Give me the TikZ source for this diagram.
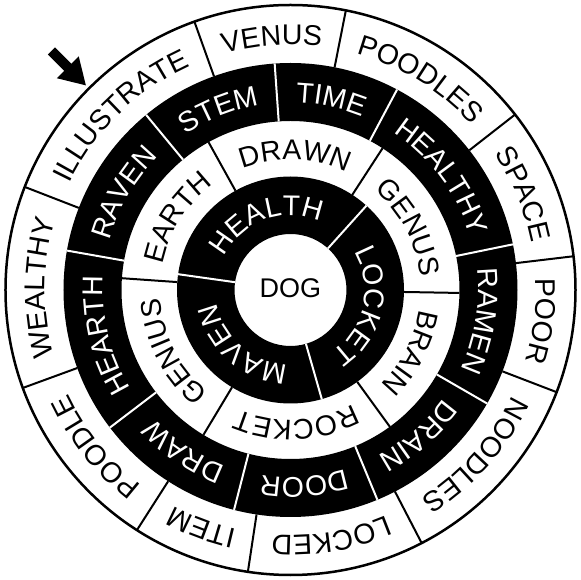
\documentclass[tikz,border=0pt]{standalone}
\usepackage{fontspec}
\setmainfont{Liberation Sans}
\usetikzlibrary{decorations.text, arrows.meta}
\newcommand\ringfnt{\fontsize{28.5}{28.5}\selectfont}
\newcommand\ringlabel[5]{%
  \path[decorate, decoration={text along path, text={|\ringfnt|#5}, text align=center, text color=#1}]
    (#3:#2) arc[start angle=#3, end angle=#4, radius=#2];}
\begin{document}
\begin{tikzpicture}[x=1pt,y=1pt,
  divB/.style={draw=black, line width=2pt},
  divW/.style={draw=white, line width=2pt},
  rim/.style={draw=black, line width=2.5pt},
  pointer/.style={draw=black, line width=10pt, -{Triangle[length=26pt,width=29pt]}}]
\useasboundingbox (-290.5,-290) rectangle (290.5,290);
\fill[white] (-290.5,-290) rectangle (290.5,290);
% black rings
\fill[black, even odd rule] (0,0) circle[radius=113.5] (0,0) circle[radius=56];
\fill[black, even odd rule] (0,0) circle[radius=227] (0,0) circle[radius=169];
% dividers
\foreach \a in {48,172,286} \draw[divW] (\a:56) -- (\a:113.5);
\foreach \a in {57,119,176,239,306,359} \draw[divB] (\a:113.5) -- (\a:169);
\foreach \a in {11.6,62,94,129.5,170,217.3,255.6,292.5,330} \draw[divW] (\a:169) -- (\a:227);
\foreach \a in {6.8,38,78.8,109.7,158.8,200.1,237.4,261.4,297.4,339} \draw[divB] (\a:227) -- (\a:285);
\draw[rim] (0,0) circle[radius=285];
% centre
\node[font=\fontsize{27}{27}\selectfont, inner sep=0pt] (dog) at (0,2) {DOG};
% ring 1
\ringlabel{white}{74.5}{172}{48}{HEALTH}
\ringlabel{white}{74.5}{286}{172}{MAVEN}
\ringlabel{white}{74.5}{408}{286}{LOCKET}
% ring 2
\ringlabel{black}{130.5}{119}{57}{DRAWN}
\ringlabel{black}{130.5}{176}{119}{EARTH}
\ringlabel{black}{130.5}{239}{176}{GENIUS}
\ringlabel{black}{130.5}{306}{239}{ROCKET}
\ringlabel{black}{130.5}{359}{306}{BRAIN}
\ringlabel{black}{130.5}{417}{359}{GENUS}
% ring 3
\ringlabel{white}{187.5}{62}{11.6}{HEALTHY}
\ringlabel{white}{187.5}{94}{62}{TIME}
\ringlabel{white}{187.5}{129.5}{94}{STEM}
\ringlabel{white}{187.5}{170}{129.5}{RAVEN}
\ringlabel{white}{187.5}{217.3}{170}{HEARTH}
\ringlabel{white}{187.5}{255.6}{217.3}{DRAW}
\ringlabel{white}{187.5}{292.5}{255.6}{DOOR}
\ringlabel{white}{187.5}{330}{292.5}{DRAIN}
\ringlabel{white}{187.5}{371.6}{330}{RAMEN}
% ring 4
\ringlabel{black}{245.5}{38}{6.8}{SPACE}
\ringlabel{black}{245.5}{78.8}{38}{POODLES}
\ringlabel{black}{245.5}{109.7}{78.8}{VENUS}
\ringlabel{black}{245.5}{158.8}{109.7}{ILLUSTRATE}
\ringlabel{black}{245.5}{200.1}{158.8}{WEALTHY}
\ringlabel{black}{245.5}{237.4}{200.1}{POODLE}
\ringlabel{black}{245.5}{261.4}{237.4}{ITEM}
\ringlabel{black}{245.5}{297.4}{261.4}{LOCKED}
\ringlabel{black}{245.5}{339}{297.4}{NOODLES}
\ringlabel{black}{245.5}{366.8}{339}{POOR}
% arrow
\coordinate (arrowStart) at (135:338);
\coordinate (arrowTip) at (135:289);
\draw[pointer] (arrowStart) -- (arrowTip);
\end{tikzpicture}
\end{document}
